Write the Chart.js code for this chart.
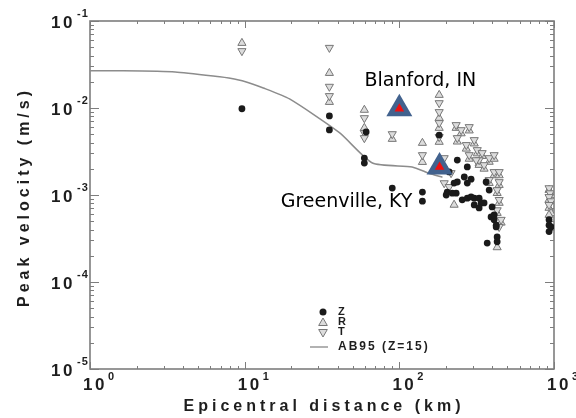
<!DOCTYPE html>
<html>
<head>
<meta charset="utf-8">
<script src="https://cdn.jsdelivr.net/npm/chart.js@4.4.0/dist/chart.umd.min.js"></script>
<style>
  body { margin: 0; background: #fff; }
  canvas { display: block; }
</style>
</head>
<body>
<canvas id="chart" width="576" height="418"></canvas>
<script>
// Z component (vertical) - black dots
const zDist = [9.6, 35.3, 35.3, 61, 59.4, 59.4, 90, 141, 141, 181, 237, 275, 263, 237, 275, 291, 204, 233, 201, 255, 275, 305, 328, 305, 338, 364, 291, 353, 328, 381, 398, 392, 410, 423, 429, 429, 370, 410, 423, 226, 220, 195, 210, 929, 929, 929, 957];
const zVel = [0.0098, 0.0081, 0.0056, 0.0053, 0.00266, 0.00233, 0.0012, 0.00108, 0.00085, 0.00489, 0.00252, 0.0021, 0.00161, 0.00141, 0.00137, 0.00152, 0.00108, 0.00105, 0.001, 0.00088, 0.00092, 0.00092, 0.00092, 0.00077, 0.00081, 0.00141, 0.00095, 0.00081, 0.00071, 0.00114, 0.00073, 0.00056, 0.00052, 0.00043, 0.00033, 0.00029, 0.00028, 0.00059, 0.00045, 0.00137, 0.00105, 0.00205, 0.00184, 0.00052, 0.00045, 0.00038, 0.00043];

// R component (radial) - up triangles
const rDist = [9.6, 35.3, 35.3, 59.4, 59.4, 90, 141, 141, 181, 181, 181, 181, 233, 251, 283, 237, 271, 305, 319, 283, 328, 328, 343, 381, 410, 353, 410, 381, 442, 442, 429, 442, 429, 455, 429, 189, 226, 929, 957, 929, 929, 957, 929];
const rVel = [0.0558, 0.0252, 0.0117, 0.0095, 0.00589, 0.0044, 0.00396, 0.00239, 0.0141, 0.00767, 0.00589, 0.00407, 0.00589, 0.0051, 0.0055, 0.0041, 0.0034, 0.0039, 0.003, 0.0026, 0.0023, 0.00221, 0.0028, 0.0024, 0.0026, 0.002, 0.00168, 0.00137, 0.00168, 0.0013, 0.00105, 0.00081, 0.00062, 0.00048, 0.00025, 0.00221, 0.00077, 0.00114, 0.001, 0.00088, 0.00071, 0.00062, 0.00059];

// T component (transverse) - down triangles
const tDist = [9.6, 35.3, 35.3, 35.3, 59.4, 59.4, 59.4, 90, 141, 181, 181, 181, 181, 233, 251, 283, 237, 271, 305, 319, 283, 328, 314, 343, 381, 410, 353, 410, 381, 442, 442, 429, 442, 429, 455, 442, 195, 216, 210, 195, 929, 943, 929, 957, 929];
const tVel = [0.0452, 0.0493, 0.0176, 0.01375, 0.00767, 0.00517, 0.00452, 0.00502, 0.00288, 0.0114, 0.009, 0.00673, 0.00465, 0.00638, 0.00558, 0.00605, 0.00452, 0.00376, 0.00429, 0.00329, 0.00288, 0.00252, 0.00252, 0.00304, 0.00266, 0.00288, 0.00221, 0.00184, 0.00149, 0.00184, 0.00141, 0.00114, 0.00088, 0.00067, 0.00052, 0.00043, 0.00137, 0.00179, 0.00124, 0.00266, 0.0012, 0.00105, 0.00095, 0.00085, 0.00077];

// AB95 (Z=15) curve
const abDist = [1, 1.45, 3.55, 6.9, 7.9, 10, 13.2, 19.5, 41, 67, 121, 155, 190];
const abVel = [0.0268, 0.0268, 0.026, 0.0229, 0.0221, 0.0202, 0.017, 0.0127, 0.0052, 0.00233, 0.0021, 0.00178, 0.0016];

// highlighted sites
const siteNames = ["Blanford, IN", "Greenville, KY"];
const siteDist = [100, 182];
const siteVel = [0.0098, 0.0021];

// axis decades
const xDecades = [1, 10, 100, 1000];
const xExponents = ["0", "1", "2", "3"];
const yDecades = [1e-1, 1e-2, 1e-3, 1e-4, 1e-5];
const yExponents = ["-1", "-2", "-3", "-4", "-5"];

const toPoints = (xs, ys) => xs.map((x, i) => ({ x: x, y: ys[i] }));

const FRAME = "#7d7d7d";
const TEXT = "#1e1e1e";
const BOLD = '"Liberation Sans", Arial, sans-serif';

function minorTicks(decades) {
  const out = [];
  for (let i = 0; i < decades.length - 1; i++) {
    const lo = Math.min(decades[i], decades[i + 1]);
    for (let m = 2; m <= 9; m++) out.push(lo * m);
  }
  return out;
}

function tri(ctx, x, y, r, down) {
  const s = down ? -1 : 1;
  ctx.beginPath();
  ctx.moveTo(x, y - s * r);
  ctx.lineTo(x + r * 0.866, y + s * r / 2);
  ctx.lineTo(x - r * 0.866, y + s * r / 2);
  ctx.closePath();
  ctx.fill();
  ctx.stroke();
}

const axisFrame = {
  id: "axisFrame",
  beforeDatasetsDraw(chart) {
    const { ctx, chartArea: a, scales } = chart;
    const xs = scales.x, ys = scales.y;
    ctx.save();
    ctx.strokeStyle = FRAME;
    ctx.lineWidth = 1;
    ctx.beginPath();
    const xTick = (v, len) => {
      const p = Math.round(xs.getPixelForValue(v)) + 0.5;
      ctx.moveTo(p, a.bottom); ctx.lineTo(p, a.bottom - len);
      ctx.moveTo(p, a.top); ctx.lineTo(p, a.top + len);
    };
    const yTick = (v, len) => {
      const p = Math.round(ys.getPixelForValue(v)) + 0.5;
      ctx.moveTo(a.left, p); ctx.lineTo(a.left + len, p);
      ctx.moveTo(a.right, p); ctx.lineTo(a.right - len, p);
    };
    xDecades.forEach(v => xTick(v, 7));
    minorTicks(xDecades).forEach(v => xTick(v, 3));
    yDecades.forEach(v => yTick(v, 9));
    minorTicks(yDecades).forEach(v => yTick(v, 4));
    ctx.stroke();
    ctx.lineWidth = 1.6;
    ctx.strokeRect(a.left, a.top, a.right - a.left, a.bottom - a.top);
    ctx.restore();
  },
  afterDraw(chart) {
    const { ctx, chartArea: a, scales } = chart;
    const xs = scales.x, ys = scales.y;
    ctx.save();
    ctx.fillStyle = TEXT;
    ctx.textBaseline = "middle";

    // y tick labels
    yDecades.forEach((v, i) => {
      const p = ys.getPixelForValue(v);
      ctx.font = "bold 17px " + BOLD;
      ctx.letterSpacing = "2.5px";
      ctx.textAlign = "right";
      ctx.fillText("10", a.left - 15, p + 2);
      ctx.font = "bold 11px " + BOLD;
      ctx.letterSpacing = "1px";
      ctx.textAlign = "left";
      ctx.fillText(yExponents[i], a.left - 13, p - 7);
    });

    // x tick labels
    xDecades.forEach((v, i) => {
      const p = xs.getPixelForValue(v);
      ctx.font = "bold 17px " + BOLD;
      ctx.letterSpacing = "2.5px";
      ctx.textAlign = "center";
      ctx.fillText("10", p + 5, a.bottom + 16);
      ctx.font = "bold 11px " + BOLD;
      ctx.letterSpacing = "1px";
      ctx.textAlign = "left";
      ctx.fillText(xExponents[i], p + 18, a.bottom + 8);
    });

    // axis titles
    ctx.font = "bold 16px " + BOLD;
    ctx.letterSpacing = "4px";
    ctx.textAlign = "center";
    ctx.fillText("Epicentral distance (km)", (a.left + a.right) / 2 + 2, a.bottom + 38);
    ctx.save();
    ctx.translate(25, (a.top + a.bottom) / 2 + 2);
    ctx.rotate(-Math.PI / 2);
    ctx.fillText("Peak velocity (m/s)", 0, 0);
    ctx.restore();

    // legend
    const lx = 323, tx = 338;
    ctx.fillStyle = "#1a1a1a";
    ctx.beginPath(); ctx.arc(lx, 312, 3.5, 0, Math.PI * 2); ctx.fill();
    ctx.fillStyle = "#dcdcdc";
    ctx.strokeStyle = "#777";
    ctx.lineWidth = 1;
    tri(ctx, lx, 323, 5, false);
    tri(ctx, lx, 332, 5, true);
    ctx.strokeStyle = "#999";
    ctx.lineWidth = 1.5;
    ctx.beginPath(); ctx.moveTo(310, 347); ctx.lineTo(328, 347); ctx.stroke();
    ctx.fillStyle = TEXT;
    ctx.font = "bold 11px " + BOLD;
    ctx.letterSpacing = "2px";
    ctx.textAlign = "left";
    ctx.fillText("Z", tx, 312);
    ctx.fillText("R", tx, 322);
    ctx.fillText("T", tx, 332);
    ctx.font = "bold 12px " + BOLD;
    ctx.fillText("AB95 (Z=15)", tx, 347);

    // site labels
    const dx = [21, -93], dy = [-28, 35];
    ctx.font = '19px "DejaVu Sans", sans-serif';
    ctx.letterSpacing = "0px";
    ctx.textAlign = "center";
    ctx.fillStyle = "#000";
    siteNames.forEach((name, i) => {
      const px = xs.getPixelForValue(siteDist[i]);
      const py = ys.getPixelForValue(siteVel[i]);
      ctx.fillText(name, px + dx[i], py + dy[i]);
    });
    ctx.restore();
  }
};

new Chart(document.getElementById("chart"), {
  type: "scatter",
  data: {
    datasets: [
      {
        label: "site inner",
        data: toPoints(siteDist, siteVel),
        pointStyle: "triangle",
        pointRadius: 5.5,
        backgroundColor: "#f01010",
        borderWidth: 0,
        order: 0,
      },
      {
        label: "sites",
        data: toPoints(siteDist, siteVel),
        pointStyle: "triangle",
        pointRadius: 15,
        backgroundColor: "#42628e",
        borderColor: "#42628e",
        borderWidth: 0,
        order: 1,
      },
      {
        label: "Z",
        data: toPoints(zDist, zVel),
        pointStyle: "circle",
        pointRadius: 3.4,
        backgroundColor: "#1a1a1a",
        borderColor: "#1a1a1a",
        borderWidth: 0,
        order: 2,
      },
      {
        label: "T",
        data: toPoints(tDist, tVel),
        pointStyle: "triangle",
        rotation: 180,
        pointRadius: 4.7,
        backgroundColor: "#dcdcdc",
        borderColor: "#777",
        borderWidth: 1,
        order: 3,
      },
      {
        label: "R",
        data: toPoints(rDist, rVel),
        pointStyle: "triangle",
        pointRadius: 4.7,
        backgroundColor: "#dcdcdc",
        borderColor: "#777",
        borderWidth: 1,
        order: 4,
      },
      {
        label: "AB95 (Z=15)",
        data: toPoints(abDist, abVel),
        showLine: true,
        pointRadius: 0,
        borderColor: "#8c8c8c",
        borderWidth: 1.5,
        tension: 0.2,
        order: 5,
      },
    ],
  },
  options: {
    responsive: false,
    animation: false,
    layout: { padding: { left: 90, right: 22, top: 21, bottom: 49 } },
    plugins: { legend: { display: false }, tooltip: { enabled: false } },
    scales: {
      x: { type: "logarithmic", min: 1, max: 1000, display: false },
      y: { type: "logarithmic", min: 1e-5, max: 1e-1, display: false },
    },
  },
  plugins: [axisFrame],
});
</script>
</body>
</html>
